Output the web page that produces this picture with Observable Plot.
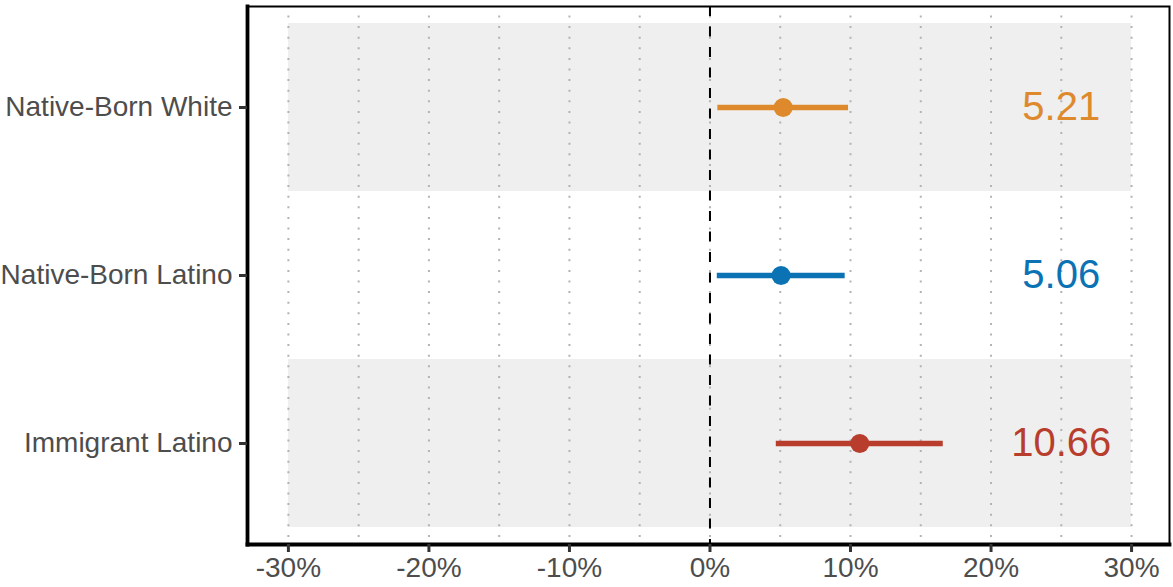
<!DOCTYPE html>
<html>
<head>
<meta charset="utf-8">
<script src="https://cdn.jsdelivr.net/npm/d3@7"></script>
<script src="https://cdn.jsdelivr.net/npm/@observablehq/plot@0.6"></script>
<style>
  html, body { margin: 0; padding: 0; background: #fff; }
  #chart { width: 1173px; height: 587px; }
</style>
</head>
<body>
<div id="chart"></div>
<script>
// Estimated effects (percent) with confidence intervals, by group
const groups = ["Native-Born White", "Native-Born Latino", "Immigrant Latino"];
const estimates = [5.21, 5.06, 10.66];
const lower = [0.56, 0.52, 4.72];
const upper = [9.86, 9.62, 16.6];
const colors = ["#DE8A2C", "#0B72B4", "#B93D2C"];
const shadedGroups = ["Native-Born White", "Immigrant Latino"];
const xTicks = [-30, -20, -10, 0, 10, 20, 30];
const gridValues = [-30, -25, -20, -15, -10, -5, 0, 5, 10, 15, 20, 25, 30];

const rows = groups.map((g, i) => ({
  group: g,
  est: estimates[i],
  lo: lower[i],
  hi: upper[i],
  color: colors[i]
}));

const font = "'Liberation Sans', Arial, Helvetica, sans-serif";

const chart = Plot.plot({
  width: 1173,
  height: 587,
  marginLeft: 247,
  marginRight: 4,
  marginTop: 6,
  marginBottom: 43,
  style: { fontFamily: font, background: "#fff", color: "#4d4d4d", overflow: "visible" },
  x: { domain: [-32.91, 32.70] },
  y: { domain: groups, paddingInner: 0, paddingOuter: 0.1 },
  color: { type: "identity" },
  marks: [
    // alternating row shading, spanning the -30%..30% range
    Plot.barX(shadedGroups, { x1: -30, x2: 30, y: d => d, fill: "#EFEFEF" }),
    // dotted vertical guides every 5 points
    Plot.ruleX(gridValues, {
      stroke: "#b3b3b3", strokeWidth: 2,
      strokeDasharray: "2,8.6", strokeDashoffset: 1.1
    }),
    // zero reference
    Plot.ruleX([0], { stroke: "#000", strokeWidth: 2, strokeDasharray: "10,10.5" }),
    // confidence intervals
    Plot.ruleY(rows, { y: "group", x1: "lo", x2: "hi", stroke: "color", strokeWidth: 5.5 }),
    // point estimates
    Plot.dot(rows, { x: "est", y: "group", r: 9.5, fill: "color", stroke: null }),
    // estimate labels
    Plot.text(rows, {
      x: 25, y: "group", text: d => d.est.toFixed(2), fill: "color",
      fontSize: 40, textAnchor: "middle", fontFamily: font
    }),
    // panel border, heavier on the axis sides
    Plot.frame({ stroke: "#000", strokeWidth: 2 }),
    Plot.frame({ anchor: "left", stroke: "#000", strokeWidth: 3.8 }),
    Plot.frame({ anchor: "bottom", stroke: "#000", strokeWidth: 3.8 }),
    Plot.axisX({
      ticks: xTicks, tickFormat: d => `${d}%`, tickSize: 8, tickPadding: 5,
      stroke: "#333", strokeWidth: 3, fill: "#4d4d4d", fontSize: 28, fontFamily: font,
      label: null
    }),
    Plot.axisY({
      tickSize: 8, tickPadding: 7,
      stroke: "#333", strokeWidth: 3, fill: "#4d4d4d", fontSize: 28, fontFamily: font,
      label: null
    })
  ]
});

document.getElementById("chart").appendChild(chart);
</script>
</body>
</html>
